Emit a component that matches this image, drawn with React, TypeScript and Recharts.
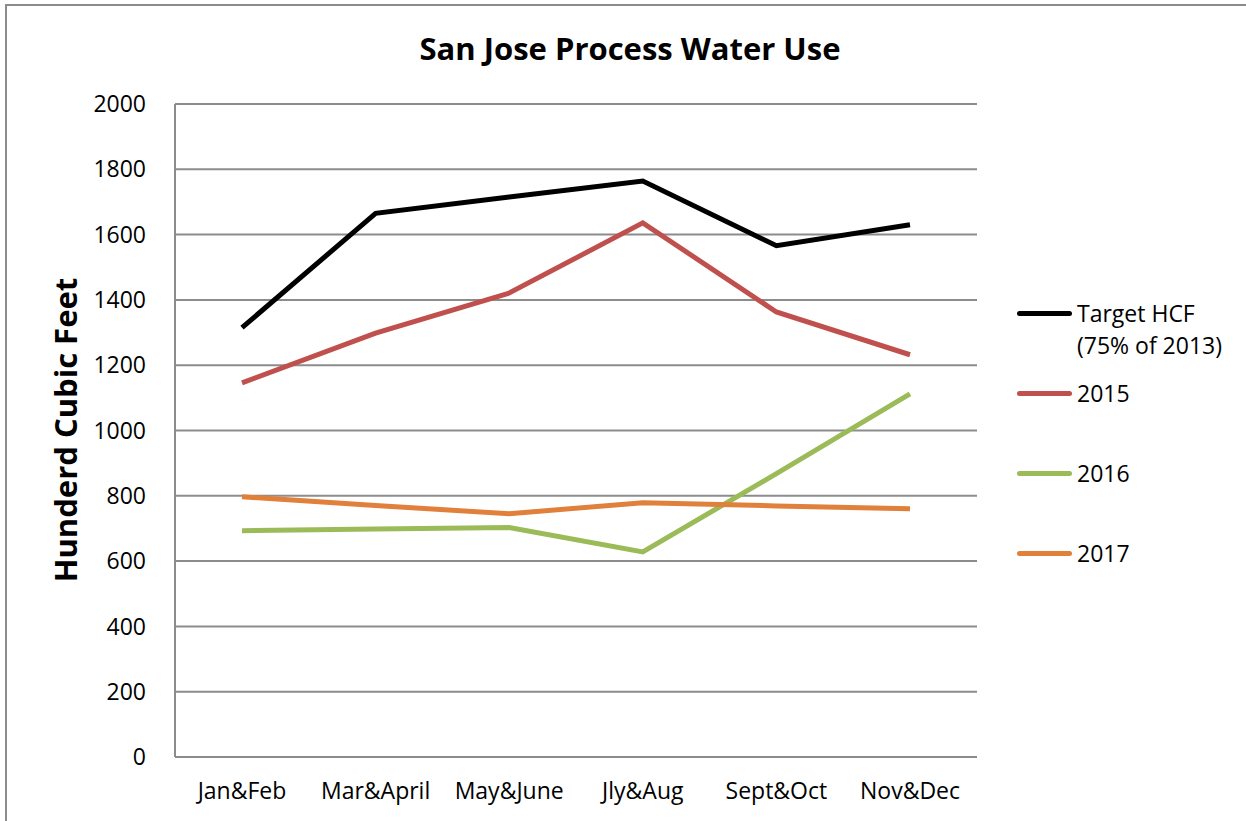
import { CartesianGrid, Line, LineChart, XAxis, YAxis } from 'recharts';

const periods = ['Jan&Feb', 'Mar&April', 'May&June', 'Jly&Aug', 'Sept&Oct', 'Nov&Dec'];
const target = [1315, 1665, 1715, 1764, 1566, 1630];
const y2015 = [1146, 1298, 1421, 1636, 1363, 1232];
const y2016 = [693, 698, 703, 628, 868, 1112];
const y2017 = [797, 770, 745, 779, 769, 760];
const yTicks = [0, 200, 400, 600, 800, 1000, 1200, 1400, 1600, 1800, 2000];

const data = periods.map((p, i) => ({
  period: p,
  target: target[i],
  y2015: y2015[i],
  y2016: y2016[i],
  y2017: y2017[i],
}));

const FONT = '"Open Sans", Lato, sans-serif';
const GRID = '#8c8c8c';

// legend rows: label lines, colour, vertical centre of first line
const legendItems = [
  { lines: ['Target HCF', '(75% of 2013)'], color: '#000000', top: 313 },
  { lines: ['2015'], color: '#c0504d', top: 393 },
  { lines: ['2016'], color: '#9bbb59', top: 473 },
  { lines: ['2017'], color: '#e0803a', top: 553 },
];

export default function App() {
  return (
    <div style={{ position: 'absolute', left: 0, top: 0, width: 1246, height: 821, background: '#fff', fontFamily: FONT, overflow: 'hidden' }}>
      <div style={{ position: 'absolute', left: 5, top: 4, width: 1300, height: 900, border: `2px solid ${GRID}` }} />
      <div style={{ position: 'absolute', left: 0, width: 1260, top: 27, textAlign: 'center', fontWeight: 700, fontSize: 31, lineHeight: '42px', color: '#000' }}>
        San Jose Process Water Use
      </div>
      <div
        style={{
          position: 'absolute', left: 65, top: 430, transform: 'translate(-50%, -50%) rotate(-90deg)',
          fontWeight: 700, fontSize: 31, lineHeight: '42px', whiteSpace: 'nowrap', color: '#000',
        }}
      >
        Hunderd Cubic Feet
      </div>
      <div style={{ position: 'absolute', left: 0, top: 0 }}>
        <LineChart width={1246} height={821} data={data} margin={{ top: 104, right: 269, bottom: 0, left: 0 }}>
          <CartesianGrid vertical={false} stroke={GRID} strokeWidth={2} />
          <XAxis
            dataKey="period"
            height={64}
            padding={{ left: 67, right: 67 }}
            tickSize={0}
            tickMargin={26}
            tickLine={false}
            axisLine={{ stroke: GRID, strokeWidth: 2 }}
            tick={{ fill: '#000', fontSize: 23, fontFamily: FONT }}
            interval={0}
          />
          <YAxis
            width={175}
            domain={[0, 2000]}
            ticks={yTicks}
            tickSize={0}
            tickMargin={29}
            tickLine={false}
            axisLine={{ stroke: GRID, strokeWidth: 2 }}
            tick={{ fill: '#000', fontSize: 23, fontFamily: FONT }}
            interval={0}
          />
          <Line type="linear" dataKey="target" stroke="#000000" strokeWidth={5} dot={false} isAnimationActive={false} />
          <Line type="linear" dataKey="y2015" stroke="#c0504d" strokeWidth={5} dot={false} isAnimationActive={false} />
          <Line type="linear" dataKey="y2016" stroke="#9bbb59" strokeWidth={5} dot={false} isAnimationActive={false} />
          <Line type="linear" dataKey="y2017" stroke="#e0803a" strokeWidth={5} dot={false} isAnimationActive={false} />
        </LineChart>
      </div>
      {legendItems.map((item) => (
        <div key={item.lines[0]} style={{ position: 'absolute', left: 1017, top: item.top - 16 }}>
          <div style={{ position: 'absolute', left: 0, top: 14, width: 55, height: 5, borderRadius: 3, background: item.color }} />
          <div style={{ position: 'absolute', left: 60, top: 0, fontSize: 23, lineHeight: '32px', whiteSpace: 'nowrap', color: '#000' }}>
            {item.lines.map((l) => (
              <div key={l}>{l}</div>
            ))}
          </div>
        </div>
      ))}
    </div>
  );
}
